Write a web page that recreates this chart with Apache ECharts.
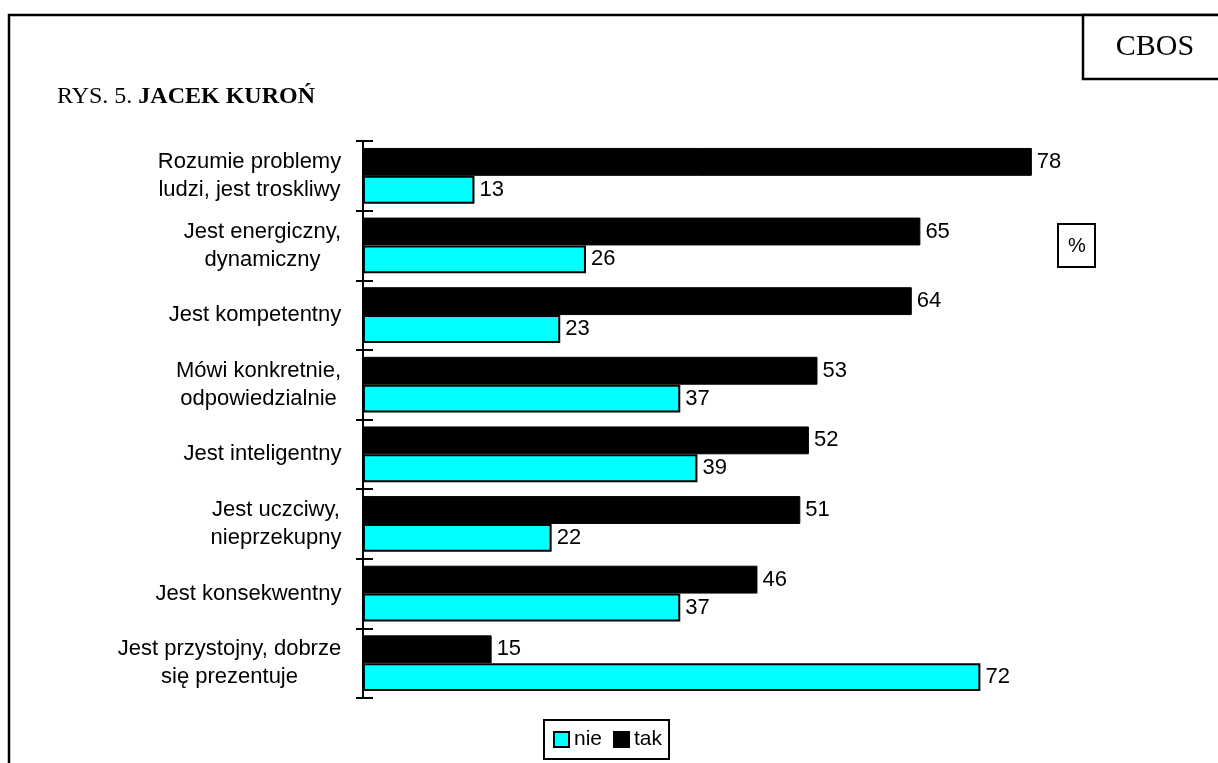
<!DOCTYPE html>
<html>
<head>
<meta charset="utf-8">
<script src="https://cdn.jsdelivr.net/npm/echarts@6/dist/echarts.min.js"></script>
<style>
html,body{margin:0;padding:0;background:#fff;}
#chart{width:1218px;height:763px;}
</style>
</head>
<body>
<div id="chart"></div>
<script>
const categories = [
  'Rozumie problemy\nludzi, jest troskliwy',
  'Jest energiczny,\ndynamiczny',
  'Jest kompetentny',
  'Mówi konkretnie,\nodpowiedzialnie',
  'Jest inteligentny',
  'Jest uczciwy,\nnieprzekupny',
  'Jest konsekwentny',
  'Jest przystojny, dobrze\nsię prezentuje'
];
const takValues = [78, 65, 64, 53, 52, 51, 46, 15];
const nieValues = [13, 26, 23, 37, 39, 22, 37, 72];
const legendNames = ['nie', 'tak'];

const sans = '"Liberation Sans", Arial, sans-serif';
const serif = '"Liberation Serif", "Times New Roman", serif';
const labelSize = 22;

// measure label widths so multi-line labels are centred within their own block
const ctx = document.createElement('canvas').getContext('2d');
ctx.font = labelSize + 'px ' + sans;
const rich = {};
categories.forEach(function (c, i) {
  const w = Math.max.apply(null, c.split('\n').map(function (l) { return ctx.measureText(l).width; }));
  rich['c' + i] = { width: Math.ceil(w) + 1, align: 'center', fontFamily: sans, fontSize: labelSize, color: '#000', lineHeight: 28 };
});

const chart = echarts.init(document.getElementById('chart'));
chart.setOption({
  backgroundColor: '#fff',
  animation: false,
  title: {
    text: '{a|RYS. 5. }{b|JACEK KUROŃ}',
    left: 57,
    top: 85,
    padding: 0,
    textStyle: {
      rich: {
        a: { fontFamily: serif, fontSize: 24, fontWeight: 'normal', color: '#000' },
        b: { fontFamily: serif, fontSize: 24, fontWeight: 'bold', color: '#000' }
      }
    }
  },
  legend: {
    data: legendNames,
    left: 544,
    top: 720,
    orient: 'horizontal',
    icon: 'rect',
    borderColor: '#000',
    borderWidth: 2,
    padding: [9, 7, 9, 9],
    itemWidth: 15,
    itemHeight: 15,
    itemGap: 11,
    selectedMode: false,
    textStyle: { fontFamily: sans, fontSize: 21, color: '#000' }
  },
  grid: { left: 363, top: 141, width: 686, height: 557, containLabel: false },
  xAxis: {
    type: 'value', min: 0, max: 80,
    show: false
  },
  yAxis: [
    {
      type: 'category',
      data: categories,
      inverse: true,
      position: 'left',
      axisLine: { show: true, lineStyle: { color: '#000', width: 2 } },
      axisTick: { show: true, inside: false, length: 7, lineStyle: { color: '#000', width: 2 } },
      axisLabel: {
        margin: 21,
        align: 'right',
        formatter: function (value, index) {
          return value.split('\n').map(function (l) { return '{c' + index + '|' + l + '}'; }).join('\n');
        },
        rich: rich
      },
      splitLine: { show: false }
    },
    {
      type: 'category',
      data: categories,
      inverse: true,
      position: 'left',
      axisLine: { show: false },
      axisTick: { show: true, inside: true, length: 10, lineStyle: { color: '#000', width: 2 } },
      axisLabel: { show: false },
      splitLine: { show: false }
    }
  ],
  series: [
    {
      name: 'tak',
      type: 'bar',
      yAxisIndex: 0,
      data: takValues,
      barGap: '0%',
      barCategoryGap: '20%',
      itemStyle: { color: '#000', borderColor: '#000', borderWidth: 1 },
      label: { show: true, position: 'right', distance: 5, fontFamily: sans, fontSize: 22, color: '#000' }
    },
    {
      name: 'nie',
      type: 'bar',
      yAxisIndex: 0,
      data: nieValues,
      barGap: '0%',
      barCategoryGap: '20%',
      itemStyle: { color: '#00FFFF', borderColor: '#000', borderWidth: 2 },
      label: { show: true, position: 'right', distance: 5, fontFamily: sans, fontSize: 22, color: '#000' }
    }
  ],
  graphic: [
    { type: 'rect', shape: { x: 9, y: 15, width: 1400, height: 1000 }, style: { fill: null, stroke: '#000', lineWidth: 2.5 }, silent: true },
    { type: 'rect', shape: { x: 1083, y: 15, width: 200, height: 64 }, style: { fill: '#fff', stroke: '#000', lineWidth: 2.5 }, silent: true },
    { type: 'text', x: 1155, y: 47, style: { text: 'CBOS', fontFamily: serif, fontSize: 30, fill: '#000', align: 'center', verticalAlign: 'middle' } },
    { type: 'rect', shape: { x: 1058, y: 224, width: 37, height: 43 }, style: { fill: '#fff', stroke: '#000', lineWidth: 2 }, silent: true },
    { type: 'text', x: 1077, y: 246, style: { text: '%', fontFamily: sans, fontSize: 20, fill: '#000', align: 'center', verticalAlign: 'middle' } }
  ]
});
</script>
</body>
</html>
